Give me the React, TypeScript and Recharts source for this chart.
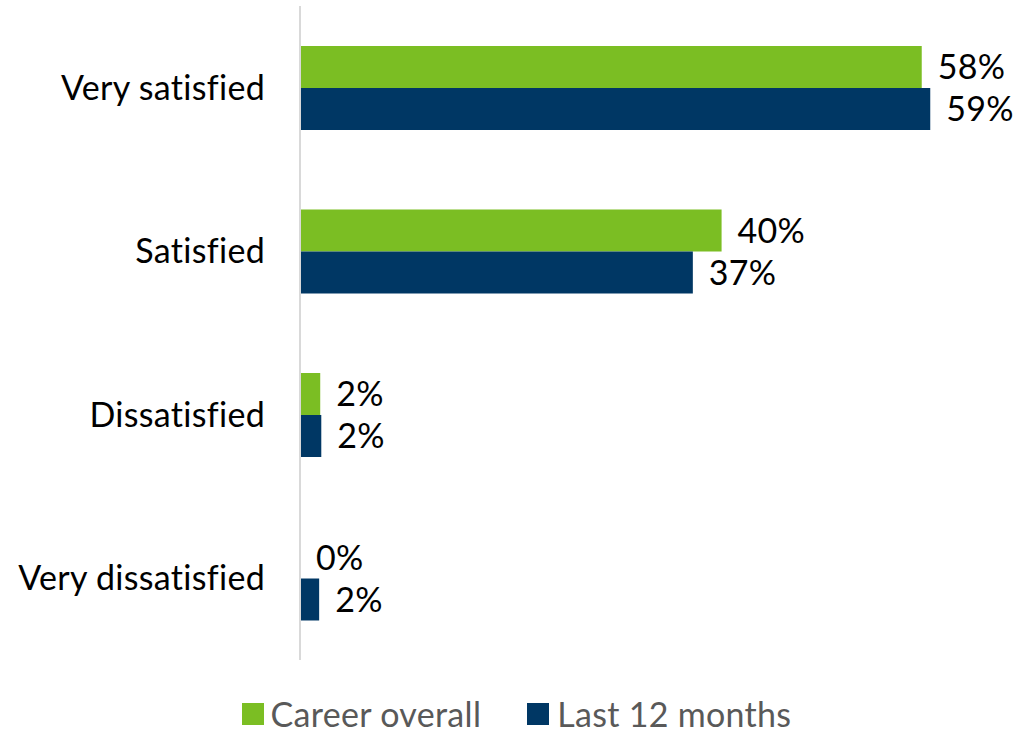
import React from 'react';
import { BarChart, Bar, XAxis, YAxis, Legend, LabelList } from 'recharts';

const categories = ['Very satisfied', 'Satisfied', 'Dissatisfied', 'Very dissatisfied'];
const careerOverall = [58.4, 39.6, 1.9, 0];
const last12Months = [59.2, 36.9, 2.0, 1.8];
const careerLabels = ['58%', '40%', '2%', '0%'];
const last12Labels = ['59%', '37%', '2%', '2%'];

const data = categories.map((c, i) => ({
  category: c,
  career: careerOverall[i],
  last12: last12Months[i],
  careerLabel: careerLabels[i],
  last12Label: last12Labels[i],
}));

const GREEN = '#7BBE23';
const NAVY = '#003764';
const FONT = 'Lato, "Open Sans", sans-serif';
const TEXT_STYLE = { fill: '#000', fontSize: 34, fontFamily: FONT, letterSpacing: 0.3 };

const LegendContent = () => (
  <div
    style={{
      display: 'flex',
      justifyContent: 'center',
      alignItems: 'center',
      height: 34,
      paddingLeft: 18,
      fontFamily: FONT,
      fontSize: 34,
      letterSpacing: 0.3,
      lineHeight: '34px',
      color: '#595959',
    }}
  >
    <span style={{ display: 'inline-flex', alignItems: 'center', marginRight: 46, height: 34 }}>
      <span style={{ width: 22, height: 22, background: GREEN, display: 'inline-block', marginRight: 7 }} />
      <span>Career overall</span>
    </span>
    <span style={{ display: 'inline-flex', alignItems: 'center', height: 34 }}>
      <span style={{ width: 22, height: 22, background: NAVY, display: 'inline-block', marginRight: 8 }} />
      <span>Last 12 months</span>
    </span>
  </div>
);

export default function App() {
  return (
    <div style={{ position: 'absolute', left: 0, top: 0, background: '#fff' }}>
      <BarChart
        width={1015}
        height={732}
        data={data}
        layout="vertical"
        margin={{ top: 6, right: 23, bottom: 38, left: 0 }}
        barGap={0}
        barSize={42}
      >
        <XAxis type="number" domain={[0, 65]} hide />
        <YAxis
          type="category"
          dataKey="category"
          width={300}
          tickLine={false}
          tickSize={0}
          tickMargin={35}
          axisLine={{ stroke: '#D9D9D9', strokeWidth: 2 }}
          tick={TEXT_STYLE}
        />
        <Legend
          verticalAlign="bottom"
          content={<LegendContent />}
          wrapperStyle={{ top: 697, bottom: 'auto', left: 0, width: 1015 }}
        />
        <Bar dataKey="career" fill={GREEN} minPointSize={0.01} isAnimationActive={false}>
          <LabelList dataKey="careerLabel" position="right" offset={16} style={TEXT_STYLE} />
        </Bar>
        <Bar dataKey="last12" fill={NAVY} isAnimationActive={false}>
          <LabelList dataKey="last12Label" position="right" offset={16} style={TEXT_STYLE} />
        </Bar>
      </BarChart>
    </div>
  );
}
